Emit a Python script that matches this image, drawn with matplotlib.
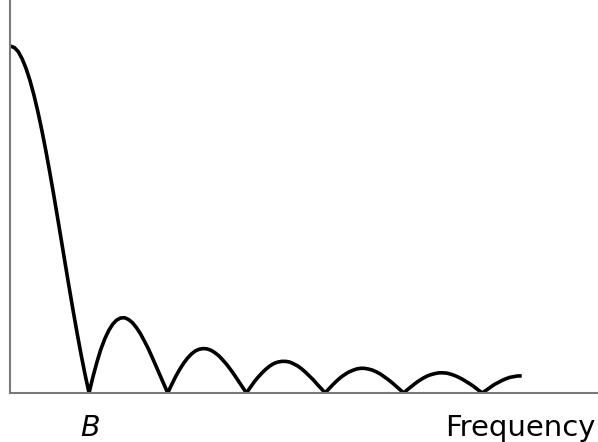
import matplotlib
matplotlib.use("Agg")
from matplotlib import pyplot as plt

# magnitude spectrum read off the picture, sampled every 0.05 B
# (x in units of B, y normalised to the main peak)
freq = [round(i * 0.05, 2) for i in range(131)]
main_lobe = [1.0, 0.996, 0.984, 0.963, 0.935, 0.900, 0.858, 0.810, 0.757, 0.699, 0.637,
             0.572, 0.505, 0.436, 0.368, 0.300, 0.234, 0.170, 0.109, 0.052, 0.0]
lobe1 = [0.047, 0.089, 0.126, 0.156, 0.180, 0.198, 0.210, 0.216, 0.217, 0.212,
         0.203, 0.189, 0.172, 0.151, 0.129, 0.104, 0.078, 0.052, 0.026, 0.0]
lobe2 = [0.024, 0.047, 0.067, 0.085, 0.100, 0.112, 0.121, 0.126, 0.128, 0.127,
         0.123, 0.116, 0.107, 0.095, 0.082, 0.067, 0.051, 0.034, 0.017, 0.0]
lobe3 = [0.016, 0.032, 0.046, 0.058, 0.069, 0.078, 0.085, 0.089, 0.091, 0.091,
         0.089, 0.084, 0.078, 0.070, 0.060, 0.049, 0.038, 0.025, 0.013, 0.0]
lobe4 = [0.012, 0.024, 0.035, 0.045, 0.053, 0.060, 0.065, 0.069, 0.071, 0.071,
         0.069, 0.066, 0.061, 0.055, 0.047, 0.039, 0.030, 0.020, 0.010, 0.0]
lobe5 = [0.010, 0.019, 0.028, 0.036, 0.043, 0.049, 0.053, 0.056, 0.058, 0.058,
         0.057, 0.054, 0.050, 0.045, 0.039, 0.032, 0.025, 0.017, 0.008, 0.0]
lobe6 = [0.008, 0.016, 0.024, 0.030, 0.036, 0.041, 0.045, 0.047, 0.049, 0.049]
mag = main_lobe + lobe1 + lobe2 + lobe3 + lobe4 + lobe5 + lobe6

fig = plt.figure(figsize=(5.98, 4.42), dpi=100)
ax = fig.add_axes([0.0174, 0.111, 0.9826, 0.889])
ax.plot(freq, mag, color="black", lw=2.6, solid_joinstyle="round", solid_capstyle="butt")
ax.set_xlim(0, 7.47)
ax.set_ylim(0, 1.133)
ax.set_xticks([])
ax.set_yticks([])
for s in ["top", "right"]:
    ax.spines[s].set_visible(False)
for s in ["left", "bottom"]:
    ax.spines[s].set_color("#7a7a7a")
    ax.spines[s].set_linewidth(1.5)

fig.text(0.1505, 0.0136, "B", fontsize=20.5, style="italic", ha="center", va="baseline")
fig.text(0.996, 0.0136, "Frequency", fontsize=21, ha="right", va="baseline")

fig.savefig("out.png", dpi=100)
